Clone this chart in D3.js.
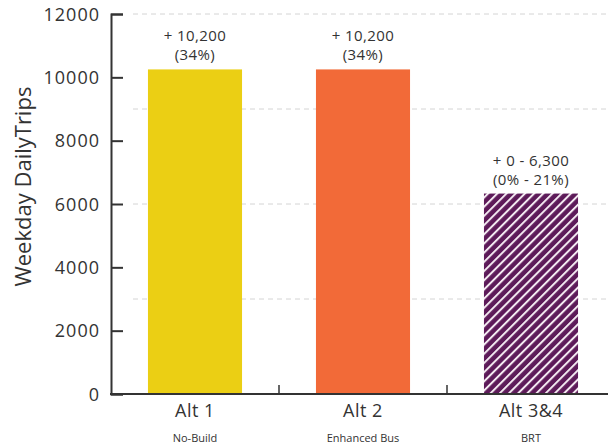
<!DOCTYPE html>
<html>
<head>
<meta charset="utf-8">
<script src="https://cdn.jsdelivr.net/npm/d3@7"></script>
<style>
  body { margin: 0; background: #fff; }
  svg text { font-family: "Open Sans", Arial, sans-serif; fill: #333; }
</style>
</head>
<body>
<div id="chart"></div>
<script>
// data
const categories = ["Alt 1", "Alt 2", "Alt 3&4"];
const subLabels = ["No-Build", "Enhanced Bus", "BRT"];
const trips = [10250, 10250, 6330];
const changeLabels = ["+ 10,200", "+ 10,200", "+ 0 - 6,300"];
const pctLabels = ["(34%)", "(34%)", "(0% - 21%)"];
const yTicks = [0, 2000, 4000, 6000, 8000, 10000, 12000];
const gridValues = [3000, 6000, 9000, 12000];

const width = 608, height = 444;
const margin = { top: 14, right: -7, bottom: 50, left: 111 };

const svg = d3.select("#chart").append("svg")
    .attr("width", width)
    .attr("height", height);

// hatch pattern for the BRT bar
const defs = svg.append("defs");
const pat = defs.append("pattern")
    .attr("id", "hatch")
    .attr("patternUnits", "userSpaceOnUse")
    .attr("width", 6.5)
    .attr("height", 6.5)
    .attr("patternTransform", "rotate(45)");
pat.append("rect").attr("width", 6.5).attr("height", 6.5).attr("fill", "#5d1a59");
pat.append("rect").attr("x", 0).attr("width", 2).attr("height", 6.5).attr("fill", "#f3e9f1");

const x = d3.scaleBand()
    .domain(categories)
    .range([margin.left, width - margin.right])
    .paddingInner(0.44)
    .paddingOuter(0.22);

const y = d3.scaleLinear()
    .domain([0, 12000])
    .range([394, margin.top]);

const colors = ["#ebcf14", "#f26a38", "url(#hatch)"];

// dashed grid
svg.append("g")
    .selectAll("line")
    .data(gridValues)
    .enter()
    .append("line")
    .attr("x1", 133)
    .attr("x2", width)
    .attr("y1", d => y(d))
    .attr("y2", d => y(d))
    .attr("stroke", "#d4d4d4")
    .attr("stroke-width", 1)
    .attr("stroke-dasharray", "5,4");

// bars
svg.append("g")
    .selectAll("rect")
    .data(trips)
    .enter()
    .append("rect")
    .attr("x", (d, i) => x(categories[i]))
    .attr("width", x.bandwidth())
    .attr("y", d => y(d))
    .attr("height", d => y(0) - y(d))
    .attr("fill", (d, i) => colors[i]);

// value labels
const lbl = svg.append("g").attr("text-anchor", "middle").style("font-size", "15px");
lbl.selectAll(".l1")
    .data(trips)
    .enter()
    .append("text")
    .attr("x", (d, i) => x(categories[i]) + x.bandwidth() / 2)
    .attr("y", d => y(d) - 28)
    .style("letter-spacing", "0.4px")
    .text((d, i) => changeLabels[i]);
lbl.selectAll(".l2")
    .data(trips)
    .enter()
    .append("text")
    .attr("x", (d, i) => x(categories[i]) + x.bandwidth() / 2)
    .attr("y", d => y(d) - 9)
    .style("letter-spacing", "0.4px")
    .text((d, i) => pctLabels[i]);

// y axis
const yAxis = svg.append("g")
    .attr("transform", `translate(${margin.left},0)`)
    .call(d3.axisRight(y).tickValues(yTicks).tickSize(12).tickFormat(d3.format("d")));
yAxis.select(".domain").attr("stroke", "#333").attr("stroke-width", 2);
yAxis.selectAll(".tick line").attr("stroke", "#333").attr("stroke-width", 2);
yAxis.selectAll(".tick text")
    .attr("x", -11)
    .attr("dy", "0.35em")
    .attr("text-anchor", "end")
    .style("font-size", "18px")
    .style("letter-spacing", "1px");

// x axis with boundary ticks
const xAxis = svg.append("g")
    .attr("transform", `translate(0,${y(0)})`);
xAxis.append("line")
    .attr("x1", margin.left - 1)
    .attr("x2", width)
    .attr("stroke", "#333")
    .attr("stroke-width", 2);
const step = x.step();
xAxis.selectAll(".bt")
    .data(categories.slice(1))
    .enter()
    .append("line")
    .attr("x1", d => x(d) - step * x.paddingInner() / 2)
    .attr("x2", d => x(d) - step * x.paddingInner() / 2)
    .attr("y1", 0)
    .attr("y2", -9)
    .attr("stroke", "#333")
    .attr("stroke-width", 1.5);

xAxis.selectAll(".cat")
    .data(categories)
    .enter()
    .append("text")
    .attr("x", d => x(d) + x.bandwidth() / 2)
    .attr("y", 23)
    .attr("text-anchor", "middle")
    .style("font-size", "18px")
    .style("letter-spacing", "0.5px")
    .text(d => d);

xAxis.selectAll(".sub")
    .data(subLabels)
    .enter()
    .append("text")
    .attr("x", (d, i) => x(categories[i]) + x.bandwidth() / 2)
    .attr("y", 48)
    .attr("text-anchor", "middle")
    .style("font-size", "11px")
    .text(d => d);

// y title
svg.append("text")
    .attr("transform", `translate(31,${y(6550)}) rotate(-90)`)
    .attr("text-anchor", "middle")
    .style("font-size", "22px")
    .text("Weekday DailyTrips");
</script>
</body>
</html>
